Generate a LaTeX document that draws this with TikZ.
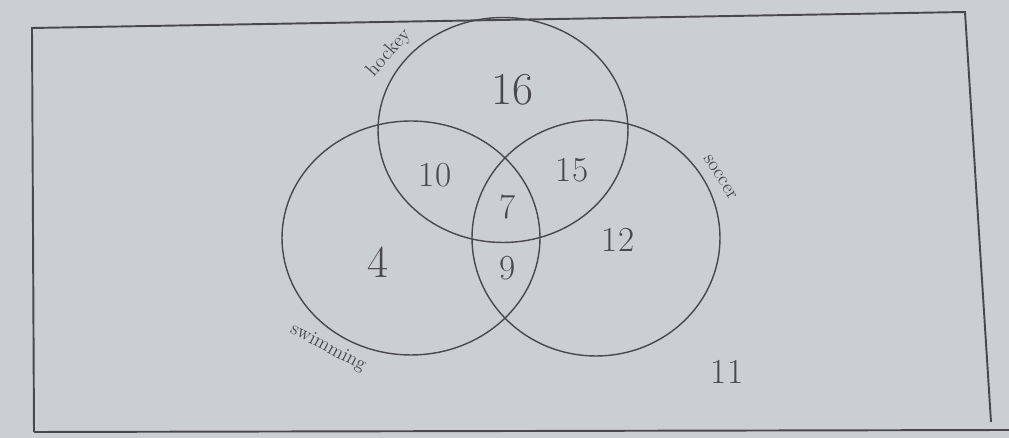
\documentclass[tikz,border=0pt]{standalone}
\usepackage{xcolor}
\usepackage{tikz}
\usetikzlibrary{shapes.geometric,positioning}
\definecolor{paper}{RGB}{204,207,209}
\definecolor{pencil}{RGB}{72,72,78}

\begin{document}
\begin{tikzpicture}[x=0.02cm,y=-0.02cm,
set/.style={draw=pencil, ellipse, line width=0.8pt, inner sep=0pt},
count/.style={text=pencil, font=\fontsize{20}{22}\selectfont, inner sep=1pt},
big/.style={text=pencil, font=\fontsize{26}{28}\selectfont, inner sep=1pt},
tag/.style={text=pencil, font=\fontsize{11}{12}\selectfont, inner sep=1pt}
]
\fill[paper] (0,0) rectangle (1009,438);
\useasboundingbox (0,0) rectangle (1009,438);

% frame of the universal set
\coordinate (c1) at (32,28);
\coordinate (c2) at (965,12);
\coordinate (c3) at (991,422);
\coordinate (c4) at (34,432);
\draw[pencil, line width=1.1pt] (c4) -- (c1) -- (c2) -- (c3);
\draw[pencil, line width=1.1pt] (c4) -- (1009,430);

% the three sets
\node[set, minimum width=5cm, minimum height=4.5cm] (hockey) at (503,130) {};
\node[set, minimum width=5.16cm, minimum height=4.68cm] (swim) at (411,238) {};
\node[set, minimum width=4.96cm, minimum height=4.72cm] (soccer) at (596,238) {};

% set names
\node[tag, rotate=48] (lh) at (389,53) {hockey};
\node[tag, rotate=-58] (ls) at (720,177) {soccer};
\node[tag, rotate=-28] (lw) at (328,348) {swimming};

% region counts
\node[big] (n16) at (512,90) {16};
\node[count] (n10) at (435,175) {10};
\node[count] (n15) at (572,170) {15};
\node[count] (n7) at (508,207) {7};
\node[big] (n4) at (378,262) {4};
\node[count] (n9) at (508,268) {9};
\node[count] (n12) at (618,240) {12};
\node[count] (n11) at (727,372) {11};

\end{tikzpicture}
\end{document}
